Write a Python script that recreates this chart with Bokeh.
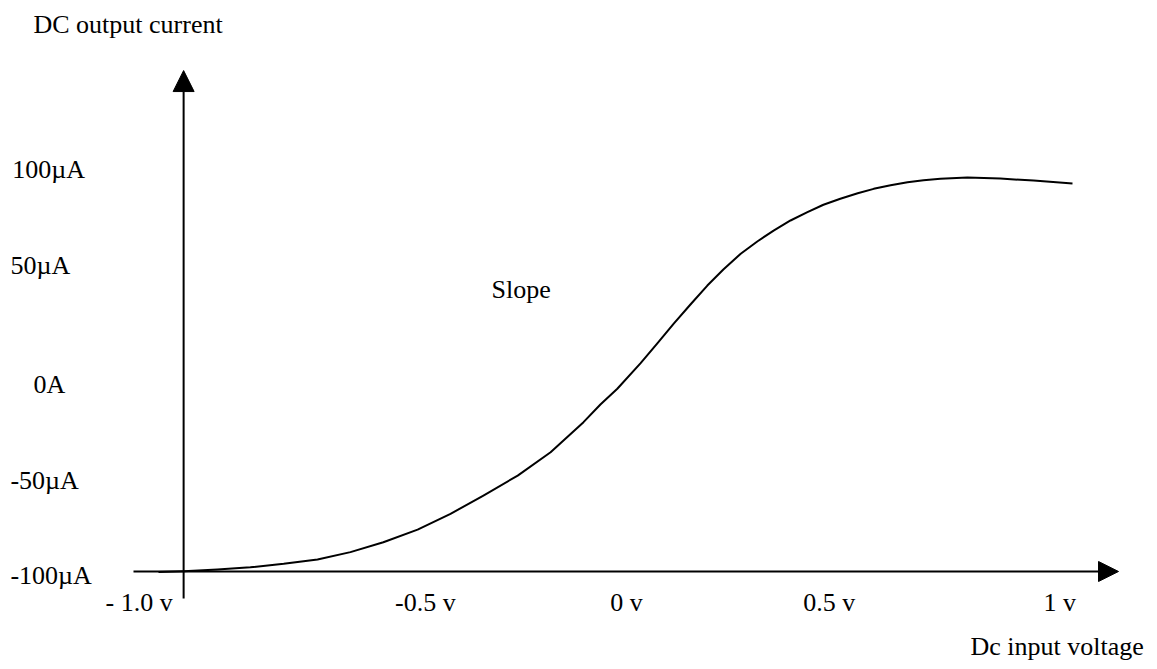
from bokeh.plotting import figure
from bokeh.models import Range1d, Arrow, NormalHead, ColumnDataSource
from bokeh.core.properties import value
from bokeh.embed import file_html
from bokeh.resources import INLINE

# ---- data ----
volts = [-1.000, -0.945, -0.871, -0.799, -0.726, -0.652, -0.580, -0.508, -0.433, -0.361,
         -0.289, -0.214, -0.142, -0.070, -0.033, 0.004, 0.055, 0.092, 0.127, 0.164,
         0.201, 0.236, 0.274, 0.311, 0.346, 0.383, 0.420, 0.455, 0.492, 0.530,
         0.565, 0.602, 0.639, 0.674, 0.711, 0.770, 0.842, 0.915, 1.000]
current_uA = [-100.3, -99.9, -99.0, -97.9, -96.2, -94.0, -90.4, -85.5, -79.2, -71.4,
              -62.3, -52.4, -40.8, -25.9, -17.1, -9.3, 3.4, 13.3, 22.9, 32.5,
              41.9, 49.9, 57.7, 63.9, 69.2, 74.2, 78.3, 82.0, 85.0, 87.7,
              89.9, 91.7, 93.2, 94.2, 94.9, 95.5, 95.0, 94.0, 92.6]

x_tick_labels = ["- 1.0 v", "-0.5 v", "0 v", "0.5 v", "1 v"]
y_tick_labels = ["100\u00b5A", "50\u00b5A", "0A", "-50\u00b5A", "-100\u00b5A"]
y_title = "DC output current"
x_title = "Dc input voltage"
note = "Slope"

# ---- layout (positions in data units) ----
x_tick_label_x = [-0.969, -0.416, 0.024, 0.468, 0.972]
x_tick_label_align = ["right", "center", "center", "center", "center"]
x_tick_label_y = -115.2
y_tick_label_x = [-1.320, -1.324, -1.2735, -1.324, -1.324]
y_tick_label_y = [99.5, 51.9, -7.2, -54.8, -102.0]

FONT = value("Liberation Serif")
FS = "26px"

p = figure(width=1157, height=669, output_backend="svg", toolbar_location=None,
           x_range=Range1d(-1.3457, 1.1860), y_range=Range1d(-148.64, 183.37),
           min_border=0)
p.axis.visible = False
p.grid.visible = False
p.outline_line_color = None
p.background_fill_color = "white"

# axes drawn as arrows
p.add_layout(Arrow(end=NormalHead(size=21, fill_color="black", line_color="black"),
                   x_start=-0.945, y_start=-113.4, x_end=-0.945, y_end=148.6,
                   line_width=2, line_color="black"))
p.add_layout(Arrow(end=NormalHead(size=20, fill_color="black", line_color="black"),
                   x_start=-1.0547, y_start=-100, x_end=1.1007, y_end=-100,
                   line_width=2, line_color="black"))

# transfer curve
p.line(volts, current_uA, line_width=2, line_color="black", line_join="round")

# tick labels
xs = ColumnDataSource(dict(x=x_tick_label_x, y=[x_tick_label_y] * len(x_tick_labels),
                           t=x_tick_labels, a=x_tick_label_align))
p.text(x="x", y="y", text="t", text_align="a", text_baseline="alphabetic",
       text_font=FONT, text_font_size=FS, text_color="black", source=xs)
ys = ColumnDataSource(dict(x=y_tick_label_x, y=y_tick_label_y, t=y_tick_labels))
p.text(x="x", y="y", text="t", text_align="left", text_baseline="alphabetic",
       text_font=FONT, text_font_size=FS, text_color="black", source=ys)

# titles / note
p.text(x=[-1.2735], y=[171.5], text=[y_title], text_align="left", text_baseline="alphabetic",
       text_font=FONT, text_font_size=FS, text_color="black")
p.text(x=[0.7768], y=[-137.2], text=[x_title], text_align="left", text_baseline="alphabetic",
       text_font=FONT, text_font_size=FS, text_color="black")
p.text(x=[-0.2713], y=[40.0], text=[note], text_align="left", text_baseline="alphabetic",
       text_font=FONT, text_font_size=FS, text_color="black")

open("out.html", "w").write(file_html(p, INLINE))
